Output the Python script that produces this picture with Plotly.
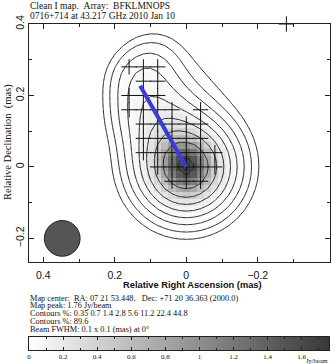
import numpy as np
import plotly.graph_objects as go

W, H = 334, 364

# ---- data -------------------------------------------------------------
# Gaussian brightness components (RA offset mas, Dec offset mas, peak Jy/beam, sigma mas)
comp_ra   = [0.000, 0.000, 0.040, 0.090, 0.120, 0.050, 0.090]
comp_dec  = [0.000, 0.000, 0.070, 0.150, 0.240, 0.180, 0.300]
comp_peak = [1.530, 0.176, 0.200, 0.080, 0.040, 0.012, 0.010]
comp_sig  = [0.047, 0.078, 0.050, 0.055, 0.050, 0.100, 0.050]

map_peak = 1.76
contour_pct = [0.35, 0.7, 1.4, 2.8, 5.6, 11.2, 22.4, 44.8, 89.6]

# CLEAN component positions (mas)
cc_ra  = [0.16, 0.12, 0.08,
          0.12, 0.08,
          0.16, 0.12, 0.08,
          0.16, 0.12, 0.08, 0.04, -0.04,
          0.12, 0.08, 0.04, 0.00, -0.04,
          0.12, 0.08, 0.04, 0.00, -0.04,
          0.12, 0.08, 0.04, 0.00, -0.04, -0.08,
          0.08, 0.04, 0.00, -0.04, -0.08,
          0.04, 0.00, -0.04,
          -0.28, 0.12, 0.08]
cc_dec = [0.28, 0.28, 0.28,
          0.24, 0.24,
          0.20, 0.20, 0.20,
          0.16, 0.16, 0.16, 0.16, 0.16,
          0.12, 0.12, 0.12, 0.12, 0.12,
          0.08, 0.08, 0.08, 0.08, 0.08,
          0.04, 0.04, 0.04, 0.04, 0.04, 0.04,
          0.00, 0.00, 0.00, 0.00, 0.00,
          -0.04, -0.04, -0.04,
          0.40, -0.28, -0.28]

# jet direction line
jet_ra  = [0.129, 0.0]
jet_dec = [0.227, 0.0]

# restoring beam
beam_ra, beam_dec, beam_fwhm = 0.347, -0.20, 0.10

cbar_ticks = [0, 0.2, 0.4, 0.6, 0.8, 1, 1.2, 1.4, 1.6]
cbar_labels = ["0", "0.2", "0.4", "0.6", "0.8", "1", "1.2", "1.4", "1.6"]

x_ticks = [0.4, 0.2, 0.0, -0.2, -0.4]
y_ticks = [0.4, 0.2, 0.0, -0.2]

# ---- image from components ---------------------------------------------
step = 0.02
xs = np.round(np.arange(-0.46, 0.4601, step), 4)
ys = np.round(np.arange(-0.32, 0.4601, step), 4)
X, Y = np.meshgrid(xs, ys)
field = np.zeros_like(X)
for a, d, p, s in zip(comp_ra, comp_dec, comp_peak, comp_sig):
    field += p * np.exp(-((X - a) ** 2 + (Y - d) ** 2) / (2 * s * s))
field *= map_peak / field.max()

lowest = map_peak * contour_pct[0] / 100.0
zlog = np.log2(np.maximum(field, 1e-12) / lowest)

def px(x):
    return x / W

def py(y):
    return 1 - y / H

GRAY = [[0, "#ffffff"], [1, "#383838"]]

fig = go.Figure()
fig.add_trace(go.Heatmap(x=xs, y=ys, z=field, zmin=0, zmax=map_peak,
                         colorscale=GRAY, showscale=False, hoverinfo="skip"))
fig.add_trace(go.Contour(x=xs, y=ys, z=zlog,
                         contours=dict(start=0, end=len(contour_pct) - 1, size=1, coloring="none"),
                         line=dict(color="#222222", width=1, smoothing=0),
                         showscale=False, hoverinfo="skip"))
fig.add_trace(go.Scatter(x=cc_ra, y=cc_dec, mode="markers", cliponaxis=False,
                         marker=dict(symbol="cross-thin", size=11,
                                     line=dict(color="#111111", width=1)),
                         hoverinfo="skip"))
fig.add_trace(go.Scatter(x=jet_ra, y=jet_dec, mode="lines",
                         line=dict(color="#3a3ad6", width=4), hoverinfo="skip"))

# colour wedge
cb_x = np.linspace(0, map_peak, 400)
fig.add_trace(go.Heatmap(x=cb_x, y=[0, 1], z=[cb_x, cb_x], zmin=0, zmax=map_peak,
                         colorscale=GRAY, showscale=False, xaxis="x2", yaxis="y2",
                         hoverinfo="skip"))

r = beam_fwhm / 2
fig.add_shape(type="circle", xref="x", yref="y",
              x0=beam_ra - r, x1=beam_ra + r, y0=beam_dec - r, y1=beam_dec + r,
              fillcolor="#555555", line=dict(color="#222222", width=1), layer="above")

tickfont = dict(family="Liberation Sans, Arial", size=10.5, color="#111111")
axcommon = dict(showline=True, linecolor="#222222", linewidth=1, mirror="allticks",
                ticks="inside", ticklen=5, tickwidth=1, tickcolor="#222222",
                showgrid=False, zeroline=False, tickfont=tickfont, automargin=False,
                minor=dict(ticks="inside", ticklen=3, dtick=0.1, tickcolor="#222222"))

fig.update_layout(
    template="none",
    width=W, height=H, margin=dict(l=0, r=0, t=0, b=0, pad=0, autoexpand=False),
    paper_bgcolor="white", plot_bgcolor="white", showlegend=False,
    xaxis=dict(domain=[px(29), px(330)], range=[0.44, -0.402], anchor="y",
               tickvals=x_ticks, ticktext=["0.4", "0.2", "0", "\u22120.2", "\u22120.4"],
               ticklabelstandoff=3, **axcommon),
    yaxis=dict(domain=[py(262), py(24)], range=[-0.266, 0.4], anchor="x",
               tickvals=y_ticks, ticktext=["0.4", "0.2", "0", "\u22120.2"],
               tickangle=-90, **axcommon),
    xaxis2=dict(domain=[px(29), px(329)], range=[0, map_peak], anchor="y2",
                showline=True, linecolor="#222222", linewidth=1, mirror="allticks",
                ticks="inside", ticklen=3, tickcolor="#222222", automargin=False,
                tickvals=cbar_ticks, ticktext=cbar_labels,
                tickfont=dict(family="Liberation Serif", size=7, color="#111111"),
                minor=dict(ticks="inside", ticklen=2, dtick=0.1, tickcolor="#222222"),
                showgrid=False, zeroline=False, ticklabelstandoff=0),
    yaxis2=dict(domain=[py(350), py(337)], range=[0, 1], anchor="x2", automargin=False,
                showline=True, linecolor="#222222", linewidth=1, mirror=True,
                ticks="", showticklabels=False, showgrid=False, zeroline=False),
)

ann = []
def txt(x, y, s, size=9, family="Liberation Serif", xanchor="left", angle=0, color="#111111"):
    ann.append(dict(x=px(x), y=py(y), xref="paper", yref="paper", text=s, showarrow=False,
                    xanchor=xanchor, yanchor="middle", textangle=angle, borderpad=0,
                    font=dict(family=family, size=size, color=color)))

txt(29, 6, "Clean I map.&nbsp;&nbsp;Array:&nbsp;&nbsp;BFKLMNOPS", size=9.5)
txt(29, 16, "0716+714 at 43.217 GHz 2010 Jan 10", size=9.5)
txt(193, 285, "<b>Relative Right Ascension (mas)</b>", size=9.3, family="Liberation Sans, Arial", xanchor="center")
txt(8, 142, "Relative Declination&nbsp;&nbsp;(mas)", size=10.5, family="Liberation Serif", xanchor="center", angle=-90)
lines = ["Map center:&nbsp;&nbsp;RA: 07 21 53.448,&nbsp;&nbsp;&nbsp;Dec: +71 20 36.363 (2000.0)",
         "Map peak: 1.76 Jy/beam",
         "Contours %: " + " ".join(str(c) for c in contour_pct[:-1]),
         "Contours %: " + str(contour_pct[-1]),
         "Beam FWHM: 0.1 x 0.1 (mas) at 0\u00b0"]
for k, s in enumerate(lines):
    txt(29, 298 + k * 7.8, s, size=8.3)
txt(329, 360.5, "Jy/beam", size=6.5, xanchor="right")
fig.update_layout(annotations=ann)

fig.write_html("out.html", config={"displayModeBar": False, "staticPlot": True},
               post_script="document.body.style.margin='0';document.body.style.padding='0';"
                           "document.body.style.overflow='hidden';")
